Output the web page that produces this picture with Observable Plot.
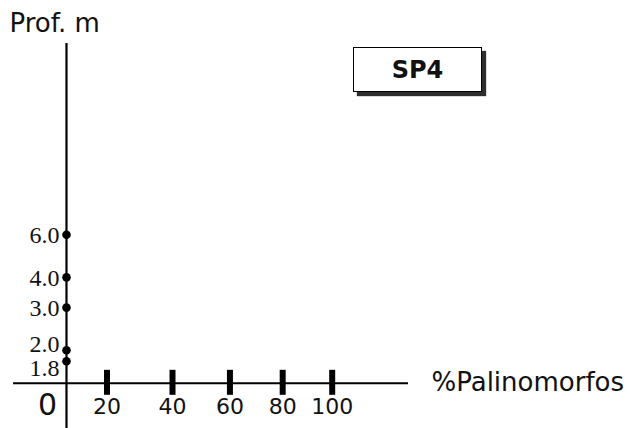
<!DOCTYPE html>
<html>
<head>
<meta charset="utf-8">
<script src="https://cdn.jsdelivr.net/npm/d3@7"></script>
<script src="https://cdn.jsdelivr.net/npm/@observablehq/plot@0.6"></script>
<style>
  html, body { margin: 0; padding: 0; background: #fff; overflow: hidden; }
  #wrap { position: relative; width: 630px; height: 428px; }
  #badge {
    position: absolute; left: 353px; top: 47px; width: 129px; height: 45px;
    box-sizing: border-box; border: 1.5px solid #000; background: #fff;
    box-shadow: 4px 4px 1px #2e2e2e;
    display: flex; align-items: center; justify-content: center;
    font-family: "DejaVu Sans", sans-serif; font-weight: bold; font-size: 24px; color: #111;
  }
</style>
</head>
<body>
<div id="wrap"><div id="badge">SP4</div></div>
<script>
// Data
const depths = [1.8, 2.0, 3.0, 4.0, 6.0];
const depthLabels = ["1.8", "2.0", "3.0", "4.0", "6.0"];
const xTicks = [20, 40, 60, 80, 100];
const xTickLabels = ["20", "40", "60", "80", "100"];
const surfaceDepth = 1.46;   // where the "0" (surface) line sits on the sketch's depth scale
const depthAxisX = 9.64;     // % value where the depth axis sits on the sketch's % scale
const yTitle = "Prof. m";
const xTitle = "%Palinomorfos";
const originLabel = "0";

const depthRows = depths.map((d, i) => ({depth: d, label: depthLabels[i]}));
const tickRows = xTicks.map((v, i) => ({v, label: xTickLabels[i]}));
// the two lowest labels sit very close together; nudge them apart as in the sketch
const lowLabel = depthRows.filter(r => r.depth === 1.8);
const nextLabel = depthRows.filter(r => r.depth === 2.0);
const otherLabels = depthRows.filter(r => r.depth > 2.0);

const sans = "DejaVu Sans, sans-serif";
const serif = "Liberation Serif, Times New Roman, serif";
const labelStyle = {x: () => depthAxisX, y: "depth", text: "label", textAnchor: "end",
  dx: -7, fontSize: 24, fontFamily: serif, fill: "#111"};

const chart = Plot.plot({
  width: 630,
  height: 428,
  marginLeft: 13,
  marginRight: 222,
  marginTop: 43,
  marginBottom: 0,
  style: {background: "transparent", color: "#000", overflow: "visible"},
  x: {type: "pow", exponent: 0.75, domain: [0, 100], range: [10.4, 331.7], axis: null},
  y: {type: "log", domain: [0.95, 37], axis: null},
  marks: [
    Plot.ruleX([depthAxisX], {x: d => d, stroke: "#000", strokeWidth: 2.2}),
    Plot.ruleY([surfaceDepth], {y: d => d, stroke: "#000", strokeWidth: 2}),
    Plot.ruleX(tickRows, {x: "v", y1: () => surfaceDepth, y2: () => surfaceDepth,
      insetTop: -13, insetBottom: -12, stroke: "#000", strokeWidth: 6}),
    Plot.text(tickRows, {x: "v", y: () => surfaceDepth, text: "label", dy: 24,
      fontSize: 22, fontFamily: sans, fill: "#111"}),
    Plot.dot(depthRows, {x: () => depthAxisX, y: "depth", r: 4.3, fill: "#000", stroke: "none"}),
    Plot.text(otherLabels, {...labelStyle, dy: 1}),
    Plot.text(nextLabel, {...labelStyle, dy: -6}),
    Plot.text(lowLabel, {...labelStyle, dy: 7}),
    Plot.text([originLabel], {x: () => depthAxisX, y: () => surfaceDepth, text: d => d,
      dx: -19, dy: 22, fontSize: 30, fontFamily: sans, fill: "#111"}),
    Plot.text([xTitle], {frameAnchor: "right", y: () => surfaceDepth, text: d => d,
      textAnchor: "start", dx: 23, dy: -1, fontSize: 26, fontFamily: sans, fill: "#111"}),
    Plot.text([yTitle], {frameAnchor: "top-left", text: d => d, textAnchor: "start",
      lineAnchor: "middle", dx: -4, dy: -19.5, fontSize: 26, fontFamily: sans, fill: "#111"})
  ]
});
chart.style.position = "absolute";
chart.style.left = "0";
chart.style.top = "0";
document.getElementById("wrap").prepend(chart);
</script>
</body>
</html>
